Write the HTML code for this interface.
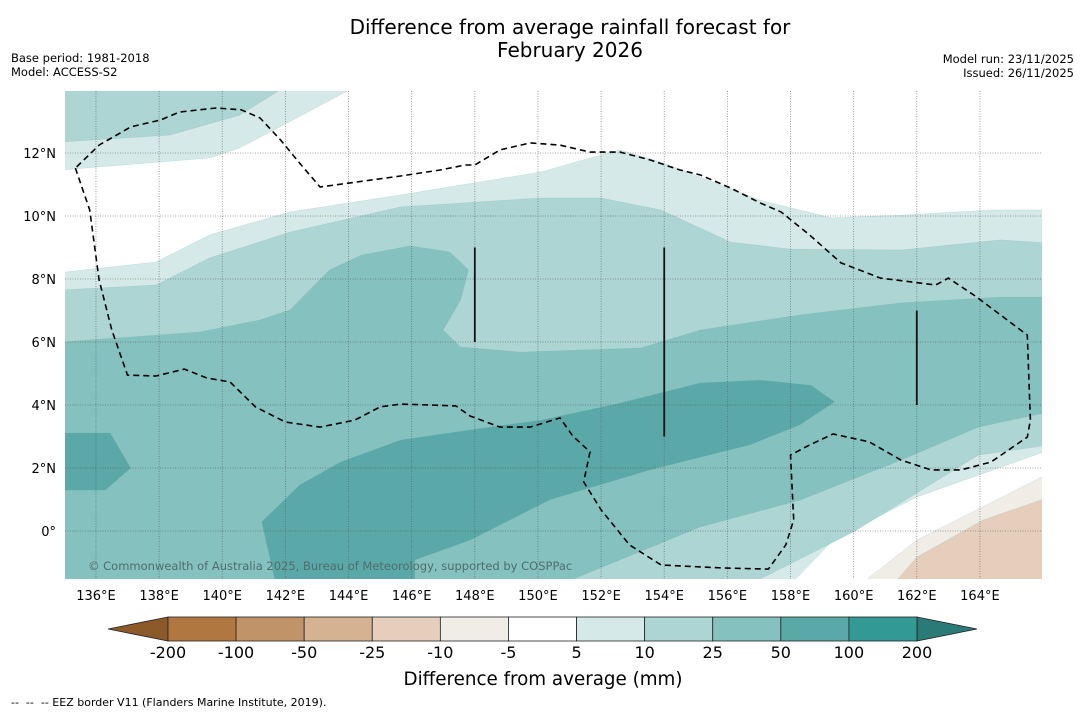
<!DOCTYPE html>
<html><head><meta charset="utf-8"><style>
body{margin:0;background:#fff;font-family:"Liberation Sans","DejaVu Sans",sans-serif;}
svg text{font-family:"DejaVu Sans","Liberation Sans",sans-serif;}
</style></head><body>
<svg id="chart" width="1085" height="713" viewBox="0 0 1085 713" xmlns="http://www.w3.org/2000/svg">
<text x="570" y="34" font-size="20" text-anchor="middle">Difference from average rainfall forecast for</text>
<text x="570" y="57" font-size="20" text-anchor="middle">February 2026</text>
<text x="11" y="62" font-size="11.5">Base period: 1981-2018</text>
<text x="11" y="76" font-size="11.5">Model: ACCESS-S2</text>
<text x="1074" y="63" font-size="11.5" text-anchor="end">Model run: 23/11/2025</text>
<text x="1074" y="77" font-size="11.5" text-anchor="end">Issued: 26/11/2025</text>
<defs><clipPath id="mapclip"><rect x="65" y="91" width="977" height="488"/></clipPath></defs>
<g id="map" clip-path="url(#mapclip)"></g>
<g id="axes"></g>
<g id="cbar"></g>
<text x="543" y="685" font-size="18.3" text-anchor="middle">Difference from average (mm)</text>
<text x="11" y="706" font-size="11" xml:space="preserve">--  --  -- EEZ border V11 (Flanders Marine Institute, 2019).</text>
</svg>
<script>
const lonTicks=[136,138,140,142,144,146,148,150,152,154,156,158,160,162,164];
const latTicks=[0,2,4,6,8,10,12];
const cbarLabels=["-200","-100","-50","-25","-10","-5","5","10","25","50","100","200"];
const cbarColors=["#b07840","#c09468","#d4b292","#e5cfbc","#f0ece6","#ffffff","#d4e9e8","#acd5d4","#84c1bf","#5aa9a8","#339995"];
const ge5Main=[[135,8.22],[137.9,8.54],[139.6,9.4],[142.15,10.13],[145.65,10.67],[150.1,11.4],[152,11.94],[152.6,12.1],[153.9,11.71],[157.05,10.5],[159.3,9.94],[161.5,10.03],[164.35,10.19],[166.2,10.19],[166.2,2.57],[162,1.08],[159.35,-0.29],[158,-1.7],[135,-1.7]];
const ge5Top=[[134.9,14.2],[144.4,14.2],[142.15,13.0],[140.55,12.16],[139.6,11.84],[134.9,11.46]];
const ge10Main=[[134.9,7.65],[137.9,7.81],[139.6,8.67],[142.15,9.49],[145.65,10.29],[150.1,10.57],[152,10.57],[153.9,10.19],[156.1,9.17],[158,8.95],[161.5,8.92],[164.65,9.24],[166.2,9.14],[166.2,2.73],[163.95,2.41],[160,-0.03],[156.7,-1.7],[134.9,-1.7]];
const ge10Top=[[134.9,14.2],[142.15,14.2],[140.55,13.2],[138.35,12.57],[134.9,12.35]];
const ge25Main=[[134.9,6.0],[139.3,6.32],[141.2,6.7],[142.15,7.02],[143.4,8.29],[144.4,8.76],[145.95,9.05],[147.2,8.86],[147.8,8.29],[147.55,7.33],[147,6.38],[147.55,5.84],[149.45,5.68],[153.25,5.81],[155.15,6.38],[158.3,6.86],[161.5,7.24],[164.65,7.43],[166.2,7.43],[166.2,3.78],[163.95,3.3],[161.5,2.25],[158.3,0.98],[155.15,0.13],[150.7,-1.7],[134.9,-1.7]];
const ge50Main=[[141.7,-1.7],[141.25,0.29],[142.45,1.46],[143.75,2.19],[145.65,2.89],[147.85,3.21],[150.1,3.52],[152.6,4.06],[155.15,4.7],[157.05,4.79],[158.65,4.63],[159.4,4.1],[158.3,3.37],[156.7,2.73],[153.55,1.94],[150.4,1.0],[147.85,-0.29],[146.1,-0.92],[146.1,-1.7]];
const ge50Blob=[[134.9,3.11],[136.45,3.11],[137.1,2.0],[136.3,1.3],[134.9,1.3]];
const neg5=[[160.2,-1.7],[162,-0.29],[166.2,1.84],[166.2,-1.7]];
const neg10=[[161.25,-1.7],[162,-0.83],[164.1,0.35],[166.2,1.08],[166.2,-1.7]];
const eez=[[135.35,11.52],[135.8,10.19],[136.1,7.97],[136.5,6.38],[137,4.95],[137.9,4.92],[138.8,5.14],[139.5,4.86],[140.25,4.73],[141.05,3.94],[142,3.46],[143.1,3.3],[144.2,3.52],[145,3.94],[145.65,4.03],[146.6,4.0],[147.4,3.97],[147.85,3.65],[148.8,3.3],[149.75,3.3],[150.7,3.59],[151.1,3.02],[151.65,2.51],[151.45,1.56],[152,0.67],[152.9,-0.44],[153.9,-1.08],[155.8,-1.17],[157.3,-1.21],[157.85,-0.44],[158.1,0.35],[158,2.41],[158.6,2.73],[159.35,3.08],[160.5,2.83],[161.5,2.25],[162.45,1.94],[163.4,1.94],[164.35,2.19],[165.5,2.98],[165.6,3.52],[165.5,6.22],[164.65,6.86],[163.85,7.46],[163,8.03],[162.6,7.81],[160.85,8.03],[159.6,8.51],[158.6,9.4],[157.7,10.13],[157.05,10.41],[156.1,10.89],[155.15,11.3],[154.5,11.46],[153.55,11.78],[152.6,12.03],[151.65,12.03],[150.7,12.25],[149.75,12.32],[148.8,12.1],[148,11.62],[147.7,11.62],[146.9,11.46],[145.65,11.27],[144.05,11.05],[143.1,10.92],[142.5,11.62],[141.85,12.41],[141.2,13.11],[140.6,13.37],[139.8,13.43],[138.65,13.3],[138.05,13.05],[137.1,12.83],[136.1,12.25],[135.35,11.52]];
const vLines=[[148,6,9],[154,3,9],[162,4,7]];

const NS='http://www.w3.org/2000/svg';
const X=lon=>64.4+(lon-135)*31.57;
const Y=lat=>531-lat*31.5;
const map=document.getElementById('map'),axes=document.getElementById('axes'),cbar=document.getElementById('cbar');
function mk(tag,attrs,parent){const e=document.createElementNS(NS,tag);for(const k in attrs)e.setAttribute(k,attrs[k]);parent.appendChild(e);return e;}
const pts=a=>a.map(p=>X(p[0]).toFixed(1)+','+Y(p[1]).toFixed(1)).join(' ');
let bg=mk('rect',{x:65,y:91,width:977,height:488,fill:'#ffffff'},map);


const layers=[[ge5Main,'#d4e9e8','band-5-10'],[ge5Top,'#d4e9e8','band-5-10-north'],[ge10Main,'#acd5d4','band-10-25'],[ge10Top,'#acd5d4','band-10-25-north'],[ge25Main,'#84c1bf','band-25-50'],[ge50Main,'#5aa9a8','band-50-100'],[ge50Blob,'#5aa9a8','band-50-100-west'],[neg5,'#f0ece6','band-neg5-neg10'],[neg10,'#e5cfbc','band-neg10-neg25']];
layers.forEach(l=>{const p=mk('polygon',{points:pts(l[0]),fill:l[1],stroke:'#7aa',"stroke-width":0.3,"stroke-opacity":0.5},map);

});
lonTicks.forEach(t=>{const g=mk('line',{x1:X(t),x2:X(t),y1:91,y2:579,stroke:'#555',"stroke-width":0.8,"stroke-dasharray":'1,1.5',"stroke-opacity":0.7},map);


const tx=mk('text',{x:X(t),y:600,"font-size":13,"text-anchor":'middle'},axes);tx.textContent=t+'°E';

});
latTicks.forEach(t=>{const g=mk('line',{x1:65,x2:1042,y1:Y(t),y2:Y(t),stroke:'#555',"stroke-width":0.8,"stroke-dasharray":'1,1.5',"stroke-opacity":0.7},map);


const tx=mk('text',{x:56,y:Y(t)+5,"font-size":13,"text-anchor":'end'},axes);tx.textContent=t===0?'0°':t+'°N';

});
const e=mk('polyline',{points:pts(eez),fill:'none',stroke:'#000',"stroke-width":1.6,"stroke-dasharray":'6,4'},map);


vLines.forEach(v=>{const l=mk('line',{x1:X(v[0]),x2:X(v[0]),y1:Y(v[2]),y2:Y(v[1]),stroke:'#111',"stroke-width":1.8},map);

});
const cp=mk('text',{x:88,y:570,"font-size":11.5,fill:'#4f6e6d'},map);cp.textContent='© Commonwealth of Australia 2025, Bureau of Meteorology, supported by COSPPac';


const cx0=168,cx1=917,cy=617,ch=24,bw=(cx1-cx0)/cbarColors.length;
let la=mk('polygon',{points:`${cx0},${cy} 108,${cy+ch/2} ${cx0},${cy+ch}`,fill:'#8c5a28',stroke:'#222',"stroke-width":0.8},cbar);


let ra=mk('polygon',{points:`${cx1},${cy} 977,${cy+ch/2} ${cx1},${cy+ch}`,fill:'#2a7a78',stroke:'#222',"stroke-width":0.8},cbar);


cbarColors.forEach((c,i)=>{const r=mk('rect',{x:cx0+i*bw,y:cy,width:bw,height:ch,fill:c,stroke:'#222',"stroke-width":0.8},cbar);

});
cbarLabels.forEach((s,i)=>{const t=mk('text',{x:cx0+i*bw,y:658,"font-size":16,"text-anchor":'middle'},cbar);t.textContent=s;

});
</script>
</body></html>
